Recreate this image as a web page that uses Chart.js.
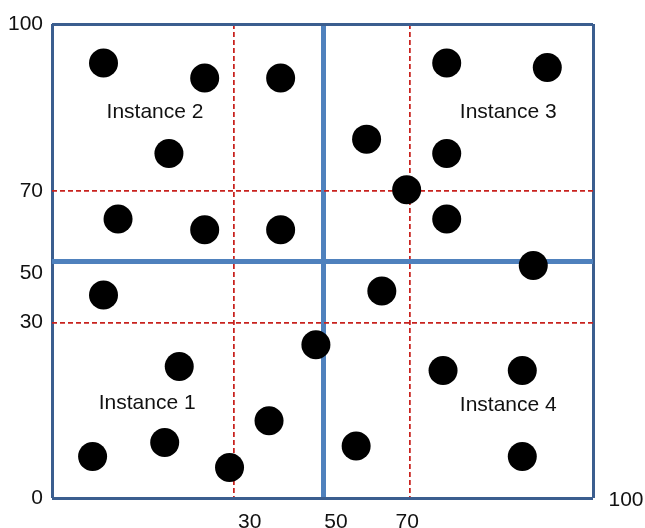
<!DOCTYPE html>
<html>
<head>
<meta charset="utf-8">
<script src="https://cdn.jsdelivr.net/npm/chart.js@4.4.1/dist/chart.umd.min.js"></script>
<style>
html,body{margin:0;padding:0;background:#fff;}
canvas{display:block;}
</style>
</head>
<body>
<canvas id="c" width="645" height="528"></canvas>
<script>
// ---- data ----
const pointX = [8.5, 25.2, 40.5, 19.3, 10.9, 25.2, 40.5, 76.0, 92.5, 60.0, 76.0, 69.2, 76.0, 90.2,
                8.5, 63.5, 48.4, 21.0, 75.4, 88.4, 37.9, 18.6, 57.6, 6.7, 29.3, 88.4];
const pointY = [93.0, 90.3, 90.3, 76.7, 62.0, 58.9, 58.9, 93.0, 92.2, 79.3, 76.7, 70.2, 62.0, 48.5,
                39.0, 40.3, 26.2, 22.5, 21.8, 21.8, 13.2, 9.5, 8.9, 7.1, 5.2, 7.1];
const tickValues = [0, 30, 50, 70, 100];
const yTickLabels = ['0', '30', '50', '70', '100'];
const xTickValues = [30, 50, 70, 100];
const xTickLabels = ['30', '50', '70', '100'];
const instanceNames = ['Instance 1', 'Instance 2', 'Instance 3', 'Instance 4'];
const instanceX = [15.7, 17.0, 86.1, 86.1];
const instanceY = [16.3, 84.2, 84.2, 15.9];

// ---- scale layout (piecewise axis: value breakpoints -> fraction of axis length) ----
const scaleBreaks = {
  x: { values: [0, 30, 50, 70, 100], fracs: [0, 0.336, 0.501, 0.662, 1] },
  y: { values: [0, 30, 50, 70, 100], fracs: [0, 0.37, 0.5, 0.648, 1] }
};
const xLabelShift = [[16, 24.5], [13, 24.5], [-3, 24.5], [33, 2]];
const FONT = "'Liberation Sans', Arial, sans-serif";

class PiecewiseScale extends Chart.LinearScale {
  _frac(v) {
    const b = scaleBreaks[this.id], vs = b.values, fs = b.fracs;
    let i = 1;
    while (i < vs.length - 1 && v > vs[i]) i++;
    return fs[i - 1] + (v - vs[i - 1]) / (vs[i] - vs[i - 1]) * (fs[i] - fs[i - 1]);
  }
  _val(f) {
    const b = scaleBreaks[this.id], vs = b.values, fs = b.fracs;
    let i = 1;
    while (i < fs.length - 1 && f > fs[i]) i++;
    return vs[i - 1] + (f - fs[i - 1]) / (fs[i] - fs[i - 1]) * (vs[i] - vs[i - 1]);
  }
  getPixelForValue(value) {
    if (value === null || isNaN(value)) return NaN;
    return this.getPixelForDecimal(this._frac(value));
  }
  getValueForPixel(pixel) {
    return this._val(this.getDecimalForPixel(pixel));
  }
}
PiecewiseScale.id = 'piecewise';
PiecewiseScale.defaults = Chart.LinearScale.defaults;
Chart.register(PiecewiseScale);

function gridColor(ctx) {
  const v = ctx.tick ? ctx.tick.value : null;
  if (v === 0 || v === 100) return '#3B5E8F';
  if (v === 50) return '#4F81BD';
  return '#C8221E';
}
function gridWidth(ctx) {
  const v = ctx.tick ? ctx.tick.value : null;
  if (v === 0 || v === 100) return 3;
  if (v === 50) return 5;
  return 1.75;
}
function gridDash(ctx) {
  const v = ctx.tick ? ctx.tick.value : null;
  return (v === 30 || v === 70) ? [5, 3] : [];
}

const labelPlugin = {
  id: 'textLabels',
  afterDatasetsDraw(chart) {
    const { ctx, scales: { x, y }, chartArea } = chart;
    ctx.save();
    ctx.font = '21px ' + FONT;
    ctx.fillStyle = '#111';
    ctx.textAlign = 'center';
    ctx.textBaseline = 'middle';
    instanceNames.forEach((n, i) => {
      ctx.fillText(n, x.getPixelForValue(instanceX[i]), y.getPixelForValue(instanceY[i]));
    });
    xTickValues.forEach((v, i) => {
      ctx.fillText(xTickLabels[i], x.getPixelForValue(v) + xLabelShift[i][0], chartArea.bottom + xLabelShift[i][1]);
    });
    ctx.restore();
  }
};

new Chart(document.getElementById('c'), {
  type: 'scatter',
  data: {
    datasets: [{
      data: pointX.map((v, i) => ({ x: v, y: pointY[i] })),
      backgroundColor: '#000',
      borderWidth: 0,
      pointRadius: 14.5,
      pointHoverRadius: 14.5,
      clip: false
    }]
  },
  options: {
    responsive: false,
    animation: false,
    devicePixelRatio: 1,
    layout: { padding: { top: 24, right: 52, left: 0, bottom: 0 } },
    plugins: { legend: { display: false }, tooltip: { enabled: false } },
    scales: {
      x: {
        type: 'piecewise', min: 0, max: 100,
        afterBuildTicks: s => { s.ticks = tickValues.map(v => ({ value: v })); },
        afterFit: s => { s.height = 30; },
        ticks: { display: false },
        grid: { drawTicks: false, color: gridColor, lineWidth: gridWidth },
        border: { display: false, dash: gridDash }
      },
      y: {
        type: 'piecewise', min: 0, max: 100,
        afterBuildTicks: s => { s.ticks = tickValues.map(v => ({ value: v })); },
        afterFit: s => { s.width = 52; },
        ticks: {
          autoSkip: false, padding: 9, color: '#111',
          font: { family: FONT, size: 21 },
          callback: v => {
            const t = yTickLabels[tickValues.indexOf(v)];
            return v === 50 ? ['', t] : t;
          }
        },
        grid: { drawTicks: false, color: gridColor, lineWidth: gridWidth },
        border: { display: false, dash: gridDash }
      }
    }
  },
  plugins: [labelPlugin]
});
</script>
</body>
</html>
